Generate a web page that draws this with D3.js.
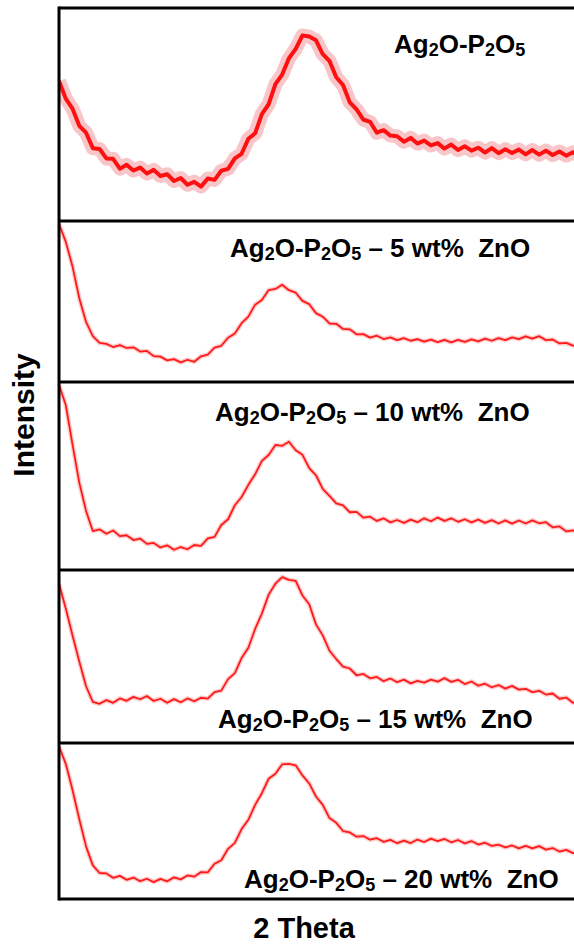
<!DOCTYPE html>
<html>
<head>
<meta charset="utf-8">
<script src="https://cdnjs.cloudflare.com/ajax/libs/d3/7.8.5/d3.min.js"></script>
<style>
  body { margin: 0; background: #fff; }
  text { font-family: "Liberation Sans", Arial, sans-serif; font-weight: bold; fill: #000; }
</style>
</head>
<body>
<svg id="chart"></svg>
<script>
// 2 theta grid (deg), one reading per degree
var twoTheta = d3.range(10, 88);

// intensities (arbitrary units, 0-100 of panel height)
var pure = [
  66.0, 57.6, 52.8, 44.6, 41.3, 33.9, 33.5, 29.0, 28.8, 24.1,
  25.9, 23.2, 24.6, 21.8, 23.5, 20.6, 21.4, 18.2, 19.6, 16.4,
  17.8, 15.5, 19.4, 18.7, 23.1, 24.0, 29.0, 31.2, 38.4, 41.0,
  50.2, 54.9, 64.5, 69.1, 76.9, 81.4, 87.8, 87.3, 85.5, 78.9,
  75.6, 67.8, 64.1, 55.8, 52.4, 47.6, 46.5, 41.3, 42.5, 39.9,
  39.6, 37.0, 38.8, 36.1, 37.5, 35.2, 36.3, 33.7, 35.6, 33.0,
  34.8, 32.7, 34.1, 31.8, 33.9, 31.5, 33.4, 31.6, 33.2, 30.9,
  33.0, 30.8, 32.7, 30.6, 32.3, 30.3, 31.9, 30.1
];
var zn5 = [
  99.5, 88.0, 72.3, 52.0, 37.0, 28.0, 23.6, 23.0, 21.0, 22.2,
  20.4, 20.8, 18.1, 18.5, 15.2, 14.9, 12.5, 13.3, 11.2, 12.9,
  11.6, 15.1, 16.2, 20.6, 21.8, 26.9, 29.6, 36.2, 40.4, 48.0,
  51.0, 57.3, 58.0, 60.7, 57.2, 55.6, 50.4, 48.3, 42.6, 40.3,
  36.0, 35.8, 32.5, 32.3, 29.1, 29.2, 27.0, 28.2, 26.1, 27.2,
  25.4, 26.7, 25.0, 26.0, 24.4, 25.7, 24.1, 25.6, 24.0, 25.5,
  24.3, 25.9, 24.6, 26.3, 25.0, 26.7, 25.4, 27.1, 26.0, 27.8,
  26.3, 27.9, 25.4, 25.8, 23.3, 23.6, 21.9, 21.5
];
var zn10 = [
  99.5, 88.6, 67.0, 46.4, 31.0, 20.1, 21.0, 18.6, 20.4, 17.3,
  17.8, 15.2, 16.0, 13.1, 13.6, 11.2, 12.3, 9.9, 11.4, 10.2,
  12.5, 12.0, 16.1, 16.9, 23.4, 26.5, 34.1, 38.6, 45.2, 50.9,
  58.2, 61.4, 66.9, 66.4, 68.6, 64.0, 61.5, 54.3, 50.4, 43.0,
  39.2, 35.1, 34.0, 30.3, 30.5, 27.4, 27.9, 25.6, 27.0, 24.8,
  26.1, 24.5, 26.3, 24.9, 27.0, 25.4, 27.4, 25.6, 27.0, 25.1,
  26.5, 24.8, 26.3, 24.5, 26.0, 24.2, 25.9, 24.1, 25.8, 24.2,
  25.9, 24.3, 24.9, 22.1, 22.6, 19.9, 20.4, 18.6
];
var zn15 = [
  93.0, 78.4, 62.4, 47.1, 32.4, 23.1, 22.0, 24.2, 22.6, 25.2,
  23.8, 26.1, 24.7, 26.6, 23.7, 25.0, 22.6, 24.8, 22.9, 25.2,
  23.5, 25.6, 25.1, 28.9, 29.8, 36.6, 40.2, 49.1, 55.2, 66.3,
  75.4, 86.6, 93.1, 97.0, 95.3, 94.7, 86.1, 80.9, 69.0, 62.5,
  53.4, 48.5, 44.0, 42.9, 38.9, 39.7, 37.1, 37.9, 35.4, 37.0,
  34.8, 36.3, 34.1, 35.6, 34.5, 36.3, 35.1, 37.2, 35.0, 36.2,
  33.7, 35.2, 32.7, 33.9, 31.8, 33.1, 31.0, 32.6, 30.4, 30.9,
  28.9, 29.7, 27.5, 28.1, 25.0, 25.7, 22.6, 23.1
];
var zn20 = [
  99.0, 87.6, 70.4, 51.2, 33.3, 20.8, 15.8, 15.5, 12.6, 13.9,
  11.3, 12.8, 10.4, 12.0, 9.8, 11.9, 10.3, 12.9, 11.6, 14.2,
  13.4, 16.4, 16.2, 21.9, 24.2, 31.7, 35.6, 44.7, 50.8, 60.6,
  68.3, 77.8, 81.1, 87.3, 87.6, 86.6, 80.0, 74.7, 66.1, 60.6,
  51.9, 48.8, 43.4, 42.5, 39.7, 40.1, 37.7, 38.7, 36.3, 37.6,
  35.4, 37.1, 35.5, 37.8, 36.2, 38.4, 36.7, 38.2, 36.0, 37.5,
  35.3, 36.8, 34.5, 35.7, 33.6, 34.4, 32.6, 33.9, 32.0, 33.6,
  32.0, 33.5, 31.2, 32.2, 29.9, 31.0, 28.9, 29.8
];

var series = [pure, zn5, zn10, zn15, zn20];
var znLabels = ['', ' \u2013 5 wt%\u00a0 ZnO', ' \u2013 10 wt%\u00a0 ZnO', ' \u2013 15 wt%\u00a0 ZnO', ' \u2013 20 wt%\u00a0 ZnO'];

// layout
var W = 574, H = 945,
    left = 59, right = 600,
    edges = [8, 221, 382, 570, 743, 899],
    labelPos = [[394, 53], [230, 257], [215, 421], [218, 728], [244, 888]];

var svg = d3.select('#chart').attr('width', W).attr('height', H);

var x = d3.scaleLinear().domain([10, 90]).range([left, right]);

var panels = svg.selectAll('.panel')
    .data(series)
    .enter().append('g').attr('class', 'panel');

panels.each(function(vals, i) {
    var g = d3.select(this),
        top = edges[i], bottom = edges[i + 1],
        y = d3.scaleLinear().domain([0, 100]).range([bottom - 2, top + 2]);

    g.append('clipPath').attr('id', 'clip' + i)
        .append('rect')
        .attr('x', left + 1).attr('y', top + 1)
        .attr('width', right - left).attr('height', bottom - top - 2);

    var line = d3.line()
        .x(function(d, j) { return x(twoTheta[j]); })
        .y(function(d) { return y(d); });

    var c = g.append('g').attr('clip-path', 'url(#clip' + i + ')');
    // pale fuzz under each trace, wide for the noisy glass-only pattern
    c.append('path').datum(vals).attr('d', line)
        .attr('fill', 'none').attr('stroke', i === 0 ? '#ee6f78' : '#ff5050')
        .attr('stroke-opacity', i === 0 ? 0.4 : 0.3)
        .attr('stroke-width', i === 0 ? 14 : 4.5)
        .attr('stroke-linejoin', 'round');
    c.append('path').datum(vals).attr('d', line)
        .attr('fill', 'none').attr('stroke', i === 0 ? '#ff1010' : '#ff1a1a')
        .attr('stroke-width', i === 0 ? 4 : 1.8)
        .attr('stroke-linejoin', 'round');

    var t = g.append('text')
        .attr('x', labelPos[i][0]).attr('y', labelPos[i][1])
        .style('font-size', '26px');
    t.append('tspan').text('Ag');
    t.append('tspan').attr('dy', 3).style('font-size', '18px').text('2');
    t.append('tspan').attr('dy', -3).text('O-P');
    t.append('tspan').attr('dy', 3).style('font-size', '18px').text('2');
    t.append('tspan').attr('dy', -3).text('O');
    t.append('tspan').attr('dy', 3).style('font-size', '18px').text('5');
    t.append('tspan').attr('dy', -3).text(znLabels[i]);
});

// frame
svg.append('line')
    .attr('x1', left).attr('x2', left)
    .attr('y1', edges[0] - 1.5).attr('y2', edges[5] + 1.5)
    .attr('stroke', '#000').attr('stroke-width', 3);
svg.selectAll('.divider')
    .data(edges)
    .enter().append('line').attr('class', 'divider')
    .attr('x1', left).attr('x2', right)
    .attr('y1', function(d) { return d; })
    .attr('y2', function(d) { return d; })
    .attr('stroke', '#000').attr('stroke-width', 3);

svg.append('text')
    .attr('transform', 'translate(34,415) rotate(-90)')
    .attr('text-anchor', 'middle')
    .style('font-size', '30px')
    .text('Intensity');

svg.append('text')
    .attr('x', 304).attr('y', 938)
    .attr('text-anchor', 'middle')
    .style('font-size', '29px')
    .text('2 Theta');
</script>
</body>
</html>
